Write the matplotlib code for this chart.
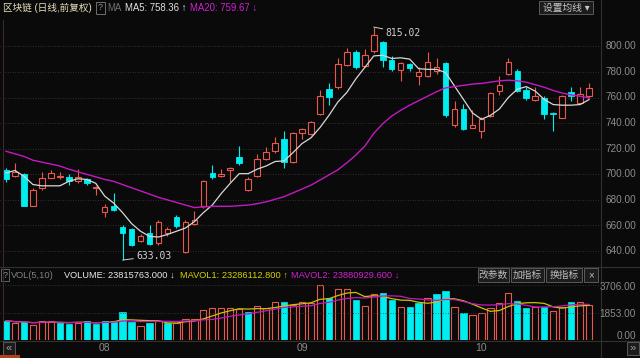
import numpy as np
import pandas as pd
import matplotlib
matplotlib.use("Agg")
import matplotlib.pyplot as plt
from matplotlib.patches import Rectangle

plt.rcParams['font.family'] = ['Liberation Sans', 'Noto Sans CJK SC', 'DejaVu Sans']

# daily candles (66 sessions, Aug - Oct)
opens = [703.2, 699, 700, 675.5, 689, 697.5, 698, 698, 694.5, 696, 689, 670.5, 675, 659, 657.5, 647.5,
         654.5, 646.5, 654, 666.7, 639, 661, 675, 701, 698.5, 703, 713.7, 687.5, 699, 711.6, 718, 727.3,
         709.5, 732, 731.2, 747, 766.5, 768, 785.3, 795.3, 785, 796, 803, 789.5, 781.6, 786, 777, 777,
         781, 787, 738.3, 750.8, 736.5, 733.8, 745.6, 765, 778.3, 781, 766, 758, 760, 748, 744.3, 764,
         756, 760.8]
highs = [705, 709, 701, 689, 701.5, 703.5, 701.5, 700, 704.5, 697, 691, 677, 685.5, 660, 658, 653,
         660, 664, 659, 668, 664, 671, 695.5, 707, 704.5, 706, 722, 698, 716, 721, 729, 733.6,
         733, 736, 742, 766, 771, 791, 799, 797, 797.6, 815.02, 804, 792.5, 788, 787, 784, 795.8,
         790.6, 788, 757, 755, 750.3, 745, 764, 777, 791, 782, 768, 768, 761, 748.5, 762, 768,
         768, 771]
lows = [694, 698, 675, 675, 688, 697, 696, 692, 693, 692, 684, 667, 671, 633.03, 644, 647,
        645, 645, 652, 658, 638.4, 660, 674, 696, 698, 694, 707, 687, 698, 711, 717, 705,
        709, 727.3, 730.5, 746, 754, 767, 784.5, 782, 784, 795, 783.5, 780.5, 773, 781, 770, 776,
        778, 745, 737, 734.5, 736, 728.6, 745, 762, 777.5, 764, 758, 757, 743, 734, 744, 757,
        755, 760]
closes = [696.5, 701.5, 675.5, 688, 697.5, 701, 699, 694.5, 698, 693, 690, 674.5, 672, 654.5, 645, 651.5,
          645.7, 663, 657, 659.3, 663, 664.5, 694.5, 698, 700.5, 705, 709, 696, 711.6, 717.3, 724.7, 709.5,
          732.5, 735.7, 741, 761, 760.5, 786, 795.3, 783.5, 793, 809, 789.5, 782.2, 786.9, 782.7, 780, 787.5,
          783.5, 746, 751.4, 735.1, 738.3, 743, 763.4, 769.6, 787.5, 765, 760, 761.3, 747, 747.5, 761.3, 761,
          762.6, 767.8]
ma5 = [701, 703, 698.5, 692, 691, 691, 691, 694.5, 696.5, 696, 693, 683, 677.5, 670, 661.5, 655.5,
       651.5, 651, 653, 655.5, 658, 663, 670, 676, 685, 693, 700.5, 700.5, 704, 706.5, 710, 710.5,
       717, 724, 728.5, 736.5, 746, 756.5, 764, 774.5, 783.5, 792.5, 793, 790.5, 791, 790, 782.5, 782,
       782, 779.5, 769, 758.5, 748, 743, 746, 751, 760, 766.5, 768.5, 765, 758.5, 754.5, 754, 754,
       754.5, 758.4]
ma20 = [718, 716, 714, 711, 709.5, 708, 706.5, 704, 702, 700, 698, 696, 694.5, 692, 689.5, 687,
        684.5, 682, 680, 678, 676, 674, 674.5, 675, 675, 675, 675.5, 676, 677, 678.5, 680.5, 682.5,
        685.5, 688.5, 691.5, 695.5, 699.5, 703.5, 709, 715, 722, 732, 739.5, 745.5, 750, 754, 757.5, 761,
        764.5, 767.5, 768.5, 769.5, 770.5, 771, 772, 773, 773.5, 773, 772, 770, 768, 765.5, 763.5, 762,
        761, 759.7]
# volume in 10k shares
volume = [1300, 1170, 1190, 1010, 1300, 1300, 1125, 1080, 1170, 1300, 1080, 1300, 1300, 1865, 1235, 945,
          1170, 1300, 1125, 1170, 1393, 1393, 2022, 2134, 2180, 2134, 2067, 1910, 2292, 2134, 2539, 2584,
          2359, 2584, 2471, 3706, 2808, 3415, 3415, 2696, 2292, 3100, 3145, 2700, 2202, 2202, 2471, 2808,
          3100, 3303, 2202, 1797, 1685, 1842, 2134, 2471, 3145, 2651, 2134, 2202, 2202, 1977, 2202, 2561,
          2561, 2382]
month_pos = [11, 33, 53]
month_labels = ['08', '09', '10']
price_ticks = [640, 660, 680, 700, 720, 740, 760, 780, 800]
vol_ticks = [0, 1853, 3706]

BG = '#0a0a0a'
RED = '#e8584e'
CYAN = '#00eef0'
MAG = '#c418c4'
GRID = '#3c3c3c'
W, H = 640, 358

fig = plt.figure(figsize=(6.4, 3.58), dpi=100, facecolor=BG)


def rect(x0, y0, x1, y1):
    return [x0 / W, 1 - y1 / H, (x1 - x0) / W, (y1 - y0) / H]


def label(x, y, s, **kw):
    kw.setdefault('va', 'center')
    kw.setdefault('fontsize', 7.2)
    fig.text(x / W, 1 - y / H, s, **kw)


def box(x0, y0, x1, y1, fc='#1c1c1c', ec='#5a5a5a'):
    fig.add_artist(Rectangle((x0 / W, 1 - y1 / H), (x1 - x0) / W, (y1 - y0) / H,
                             transform=fig.transFigure, fc=fc, ec=ec, lw=0.7))


xlim = (-6 / 8.97, 594 / 8.97)
n = len(closes)
x = np.arange(n)
o, h, l, c = map(np.array, (opens, highs, lows, closes))
up = c >= o

# price panel
ax = fig.add_axes(rect(0, 20, 600, 265))
ax.set_facecolor(BG)
ax.set_xlim(xlim)
ax.set_ylim(629.14, 820.55)
for p in price_ticks:
    ax.axhline(p, color=GRID, lw=0.6, ls=(0, (1, 2)))
bw = 0.62
for i in range(n):
    if up[i]:
        ax.vlines(i, c[i], h[i], color=RED, lw=0.8)
        ax.vlines(i, l[i], o[i], color=RED, lw=0.8)
        ax.add_patch(Rectangle((i - bw / 2, o[i]), bw, max(c[i] - o[i], 0.4),
                               fc=BG, ec=RED, lw=0.8, zorder=3))
    else:
        ax.vlines(i, l[i], h[i], color=CYAN, lw=0.8)
        ax.add_patch(Rectangle((i - bw / 2, c[i]), bw, max(o[i] - c[i], 0.4),
                               fc=CYAN, ec=CYAN, lw=0.6, zorder=3))
ax.plot(x, ma5, color='#d8d8d8', lw=0.9, zorder=4)
ax.plot(x, ma20, color=MAG, lw=1.0, zorder=4)
imax = int(np.argmax(h))
imin = int(np.argmin(l))
ax.annotate('%.2f' % h[imax], xy=(imax, h[imax]), xytext=(imax + 1.3, h[imax] - 4.5),
            color='#d0d0d0', fontsize=7, va='center', family='DejaVu Sans Mono',
            arrowprops=dict(arrowstyle='-', color='#d0d0d0', lw=0.7, shrinkA=0, shrinkB=0))
ax.annotate('%.2f' % l[imin], xy=(imin, l[imin]), xytext=(imin + 1.5, l[imin] + 3),
            color='#d0d0d0', fontsize=7, va='center', family='DejaVu Sans Mono',
            arrowprops=dict(arrowstyle='-', color='#d0d0d0', lw=0.7, shrinkA=0, shrinkB=0))
ax.axis('off')

# volume panel
vax = fig.add_axes(rect(0, 283, 600, 340))
vax.set_facecolor(BG)
vax.set_xlim(xlim)
vax.set_ylim(0, 57 * 67.4)
for v in vol_ticks[1:]:
    vax.axhline(v, color=GRID, lw=0.6, ls=(0, (1, 2)))
prev = np.r_[o[0], c[:-1]]
vup = c >= prev
for i in range(n):
    if vup[i]:
        vax.add_patch(Rectangle((i - 0.35, 0), 0.7, volume[i], fc=BG, ec=RED, lw=0.8))
    else:
        vax.add_patch(Rectangle((i - 0.35, 0), 0.7, volume[i], fc=CYAN, ec=CYAN, lw=0.5))
vol = pd.Series(volume, dtype=float)
vax.plot(x, vol.rolling(5, min_periods=1).mean(), color='#c8c400', lw=0.9)
vax.plot(x, vol.rolling(10, min_periods=1).mean(), color=MAG, lw=0.9)
vax.axis('off')

# frame lines
fig.add_artist(plt.Line2D([2.5 / W, 2.5 / W], [1 - 20 / H, 1 - 341 / H], color='#3a2a2a', lw=0.8))
fig.add_artist(plt.Line2D([600.5 / W, 600.5 / W], [0, 1], color='#303030', lw=0.8))
fig.add_artist(plt.Line2D([0, 1], [1 - 267 / H, 1 - 267 / H], color='#303030', lw=0.8))
fig.add_artist(plt.Line2D([0, 1], [1 - 341 / H, 1 - 341 / H], color='#303030', lw=0.8))

# right axis labels
for p in price_ticks:
    label(636, 46.3 + (800 - p) * 1.28, '%.2f' % p, ha='right', color='#8c8c8c')
label(636, 287, '3706.00', ha='right', color='#8c8c8c')
label(636, 314, '1853.00', ha='right', color='#8c8c8c')
label(636, 336, '0.00', ha='right', color='#8c8c8c')

# header
label(3, 8, '区块链 (日线,前复权)', color='#e6e0bc', fontsize=6.9)
box(96, 2, 105, 14, fc=BG, ec='#707070')
label(100.5, 8, '?', ha='center', color='#8c8c8c', fontsize=6.5)
label(107, 8, 'MA', color='#707070', fontsize=6.9)
label(125, 8, 'MA5: 758.36 \u2191', color='#e0e0e0', fontsize=6.9)
label(190, 8, 'MA20: 759.67 \u2193', color='#d020d0', fontsize=6.9)
box(539, 1, 593, 14)
label(566, 7.5, '设置均线 \u25be', ha='center', color='#c8c8c8', fontsize=7)

# volume header
box(1, 269, 9, 281, fc=BG, ec='#606060')
label(5, 275, '?', ha='center', color='#8c8c8c', fontsize=6.5)
label(11, 275, 'VOL(5,10)', color='#808080', fontsize=6.7)
label(64, 275, 'VOLUME: 23815763.000 \u2193', color='#e8e8e8', fontsize=6.7)
label(180, 275, 'MAVOL1: 23286112.800 \u2191', color='#d4d000', fontsize=6.7)
label(291, 275, 'MAVOL2: 23880929.600 \u2193', color='#d020d0', fontsize=6.7)
for x0, x1, s in [(478, 509, '改参数'), (511, 544, '加指标'), (546, 582, '换指标'), (584, 598, '\u00d7')]:
    box(x0, 268, x1, 282)
    label((x0 + x1) / 2, 275, s, ha='center', color='#bcbcbc', fontsize=7)

# date axis
for pos, s in zip(month_pos, month_labels):
    label(6 + 8.97 * pos, 348, s, ha='center', color='#8c8c8c', fontsize=7.5)
box(3, 342, 15, 355)
label(9, 348.5, '\u00ab', ha='center', color='#a0a0a0', fontsize=8)
box(627, 342, 639, 355)
label(633, 348.5, '\u00bb', ha='center', color='#a0a0a0', fontsize=8)
fig.add_artist(Rectangle((0, 0), 20 / W, 3 / H, transform=fig.transFigure, fc='#b04020', ec='none'))

fig.savefig('out.png', dpi=100, facecolor=BG)
